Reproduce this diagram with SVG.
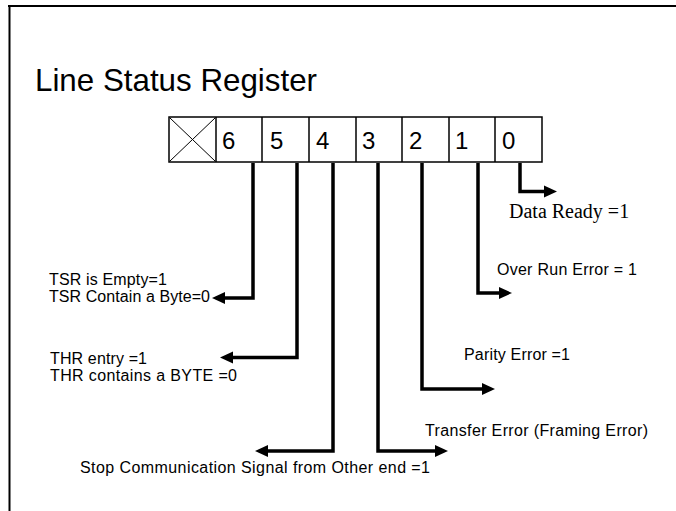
<svg xmlns="http://www.w3.org/2000/svg" width="676" height="511" viewBox="0 0 676 511">
  <style>
    .frame { stroke: #000; stroke-width: 2; fill: none; }
    .cell { stroke: #000; stroke-width: 1.5; fill: #fff; }
    .thin { stroke: #000; stroke-width: 1; }
    .digit { font-family: "Liberation Sans", Arial, sans-serif; font-size: 24px; fill: #000; }
    .title { font-family: "Liberation Sans", Arial, sans-serif; font-size: 32px; fill: #000; }
    .lbl { font-family: "Liberation Sans", Arial, sans-serif; font-size: 16px; fill: #000; }
    .serif { font-family: "Liberation Serif", "Times New Roman", serif; font-size: 20px; fill: #000; }
    .conn { stroke: #000; stroke-width: 3.5; fill: none; marker-end: url(#arrow); }
  </style>
  <defs>
    <marker id="arrow" markerUnits="userSpaceOnUse" markerWidth="14" markerHeight="14" viewBox="0 0 14 14" refX="2" refY="7" orient="auto">
      <path d="M0,1 L13,7 L0,13 Z" fill="#000"/>
    </marker>
  </defs>
  <rect width="676" height="511" fill="#fff"/>
  <g id="frame">
    <line class="frame" x1="8" y1="6" x2="676" y2="6"/>
    <line class="frame" x1="9.5" y1="5" x2="9.5" y2="511"/>
  </g>
  <g id="title">
    <text class="title" x="35" y="91" textLength="282" lengthAdjust="spacingAndGlyphs">Line Status Register</text>
  </g>
  <g id="register">
    <rect class="cell" x="169" y="117" width="373" height="45"/>
    <line class="thin" x1="170" y1="118" x2="215" y2="161"/>
    <line class="thin" x1="215" y1="118" x2="170" y2="161"/>
    <line class="cell" x1="216" y1="117" x2="216" y2="162"/>
    <line class="cell" x1="262" y1="117" x2="262" y2="162"/>
    <line class="cell" x1="309" y1="117" x2="309" y2="162"/>
    <line class="cell" x1="356" y1="117" x2="356" y2="162"/>
    <line class="cell" x1="402" y1="117" x2="402" y2="162"/>
    <line class="cell" x1="449" y1="117" x2="449" y2="162"/>
    <line class="cell" x1="495" y1="117" x2="495" y2="162"/>
  </g>
  <g id="bit6"><text class="digit" x="222" y="149">6</text></g>
  <g id="bit5"><text class="digit" x="270" y="149">5</text></g>
  <g id="bit4"><text class="digit" x="316" y="149">4</text></g>
  <g id="bit3"><text class="digit" x="362" y="149">3</text></g>
  <g id="bit2"><text class="digit" x="409" y="149">2</text></g>
  <g id="bit1"><text class="digit" x="455" y="149">1</text></g>
  <g id="bit0"><text class="digit" x="502" y="149">0</text></g>
  <g id="connectors">
    <path class="conn" d="M253,163 V298 H223"/>
    <path class="conn" d="M297,163 V357.5 H231"/>
    <path class="conn" d="M333,163 V451 H266"/>
    <path class="conn" d="M378,163 V451 H437"/>
    <path class="conn" d="M422,163 V389 H484"/>
    <path class="conn" d="M478,163 V293 H501"/>
    <path class="conn" d="M520,163 V191.5 H546"/>
  </g>
  <g id="label-tsr">
    <text class="lbl" x="49" y="285" textLength="118">TSR is Empty=1</text>
    <text class="lbl" x="49" y="301.5" textLength="161">TSR Contain a Byte=0</text>
  </g>
  <g id="label-thr">
    <text class="lbl" x="50" y="364" textLength="97">THR entry =1</text>
    <text class="lbl" x="50" y="381" textLength="187">THR contains a BYTE =0</text>
  </g>
  <g id="label-stop">
    <text class="lbl" x="80" y="473" textLength="350">Stop Communication Signal from Other end =1</text>
  </g>
  <g id="label-transfer">
    <text class="lbl" x="425" y="436" textLength="223">Transfer Error (Framing Error)</text>
  </g>
  <g id="label-parity">
    <text class="lbl" x="464" y="360" textLength="106">Parity Error =1</text>
  </g>
  <g id="label-overrun">
    <text class="lbl" x="497" y="275" textLength="140">Over Run Error = 1</text>
  </g>
  <g id="label-dataready">
    <text class="serif" x="509" y="218">Data Ready =1</text>
  </g>
</svg>
